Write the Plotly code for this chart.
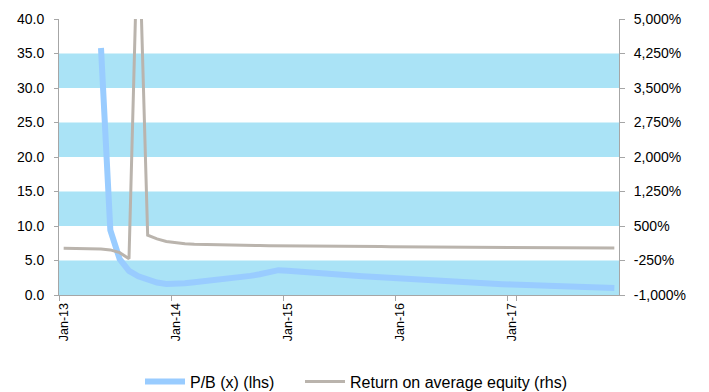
import pandas as pd
import plotly.graph_objects as go

# Monthly categories, Jan-13 .. Dec-17
months = list(pd.date_range("2013-01-01", "2017-12-01", freq="MS").strftime("%b-%y"))

# Price-to-book multiple (x), left axis
pb_ratio = [
    None, None, None, None, 35.8, 9.4, 5.2, 3.5, 2.7, 2.2, 1.8, 1.6,
    1.6, 1.7, 1.85, 1.97, 2.1, 2.25, 2.4, 2.57, 2.77, 3.0, 3.28, 3.6,
    3.5, 3.38, 3.27, 3.17, 3.08, 3.0, 2.91, 2.82, 2.73, 2.64, 2.55, 2.46,
    2.37, 2.28, 2.19, 2.1, 2.01, 1.92, 1.84, 1.77, 1.72, 1.67, 1.62, 1.57,
    1.52, 1.47, 1.43, 1.39, 1.34, 1.29, 1.24, 1.19, 1.14, 1.09, 1.04, 1.0,
]

# Return on average equity (%), right axis
roae_pct = [
    18, 15, 12, 8, 2, -20, -80, -210, 7400, 300, 220, 165,
    135, 115, 103, 97, 92, 88, 85, 82, 79, 76, 73, 70,
    68, 66, 64, 62, 60, 58, 56, 55, 54, 53, 52, 51,
    50, 49, 48, 47, 46, 45, 44, 43, 42, 41, 40, 39,
    38, 36, 35, 33, 32, 30, 29, 27, 26, 24, 22, 20,
]

# Shaded horizontal bands on the left scale
band_bounds = [(0, 5), (10, 15), (20, 25), (30, 35)]

left_ticks = [0, 5, 10, 15, 20, 25, 30, 35, 40]
right_ticks = [-1000, -250, 500, 1250, 2000, 2750, 3500, 4250, 5000]
right_labels = ["-1,000%", "-250%", "500%", "1,250%", "2,000%",
                "2,750%", "3,500%", "4,250%", "5,000%"]

BAND = "#AAE3F6"
AXIS = "#A6A6A6"
FONT = "Liberation Sans, Arial, sans-serif"

fig = go.Figure()
fig.add_trace(go.Scatter(
    x=months, y=pb_ratio, name="P/B (x) (lhs)", mode="lines",
    line=dict(color="#99CCFF", width=6), yaxis="y", legend="legend",
))
fig.add_trace(go.Scatter(
    x=months, y=roae_pct, name="Return on average equity (rhs)", mode="lines",
    line=dict(color="#BAB4AD", width=3), yaxis="y2", legend="legend2",
))

for lo, hi in band_bounds:
    fig.add_shape(type="rect", xref="paper", yref="y", x0=0, x1=1, y0=lo, y1=hi,
                  fillcolor=BAND, line_width=0, layer="below")

# One legend box per series so each entry sits at its own spot on the row
legend_common = dict(
    orientation="h", xref="container", yref="container",
    xanchor="left", y=(392 - 381.5) / 392, yanchor="middle",
    itemwidth=40, font=dict(size=16, family=FONT), bgcolor="rgba(0,0,0,0)",
)

fig.update_layout(
    width=709, height=392,
    margin=dict(l=59, r=90, t=19, b=97, autoexpand=False),
    paper_bgcolor="white", plot_bgcolor="white",
    font=dict(family=FONT, color="#000000"),
    showlegend=True,
    xaxis=dict(
        type="category", range=[-0.5, 59.5],
        tickvals=months[::12], tickson="boundaries",
        ticks="outside", ticklen=5, tickcolor=AXIS,
        showline=True, linecolor=AXIS, linewidth=1,
        tickangle=-90, tickfont=dict(size=12.5, family=FONT),
        ticklabelstandoff=2,
        showgrid=False, zeroline=False,
    ),
    yaxis=dict(
        range=[0, 40], tickvals=left_ticks, tickformat=".1f",
        ticks="outside", ticklen=4, tickcolor=AXIS,
        showline=True, linecolor=AXIS, linewidth=1,
        tickfont=dict(size=14, family=FONT), ticklabelstandoff=7,
        showgrid=False, zeroline=False,
    ),
    yaxis2=dict(
        overlaying="y", side="right", range=[-1000, 5000],
        tickvals=right_ticks, ticktext=right_labels,
        ticks="outside", ticklen=5, tickcolor=AXIS,
        showline=True, linecolor=AXIS, linewidth=1,
        tickfont=dict(size=14, family=FONT), ticklabelstandoff=6,
        showgrid=False, zeroline=False,
    ),
    legend=dict(x=140 / 709, **legend_common),
    legend2=dict(x=300 / 709, **legend_common),
)

fig.write_html("out.html")
